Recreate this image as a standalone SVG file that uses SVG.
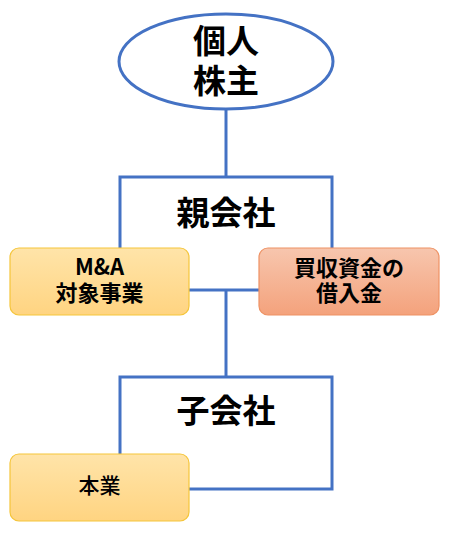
<svg xmlns="http://www.w3.org/2000/svg" width="458" height="544" viewBox="0 0 458 544">
<defs>
<linearGradient id="gy" x1="0" y1="0" x2="0" y2="1"><stop offset="0" stop-color="#FFE4A9"/><stop offset="1" stop-color="#FFD481"/></linearGradient>
<linearGradient id="gs" x1="0" y1="0" x2="0" y2="1"><stop offset="0" stop-color="#F7C6AE"/><stop offset="1" stop-color="#F4A27C"/></linearGradient>
</defs>
<style>
.ln{fill:none;stroke:#4472C4;stroke-width:3}
.big{font-family:"Noto Sans CJK JP","Noto Sans CJK SC",sans-serif;font-weight:bold;font-size:33px;fill:#000;text-anchor:middle}
.mid{font-family:"Noto Sans CJK JP","Noto Sans CJK SC",sans-serif;font-weight:bold;font-size:22px;fill:#000;text-anchor:middle}
.sm{font-family:"Noto Sans CJK JP","Noto Sans CJK SC",sans-serif;font-weight:500;font-size:21px;fill:#000;text-anchor:middle}
.yb{fill:url(#gy);stroke:#F5C53A;stroke-width:1.2}
.sb{fill:url(#gs);stroke:#EE9264;stroke-width:1.2}
</style>
<g id="connectors">
<line class="ln" x1="226" y1="109" x2="226" y2="177"/>
<line class="ln" x1="226" y1="290" x2="226" y2="377"/>
</g>
<g id="shareholder">
<ellipse class="ln" cx="226" cy="61.5" rx="107" ry="47.5" fill="#fff"/>
<text class="big"><tspan x="226" y="52.5">個人</tspan><tspan x="226" y="92.5">株主</tspan></text>
</g>
<g id="parent">
<rect class="ln" x="120" y="177" width="212" height="113" fill="#fff"/>
<text class="big" x="226" y="225">親会社</text>
</g>
<g id="ma">
<rect class="yb" x="10" y="248" width="179" height="67" rx="9"/>
<text class="mid"><tspan x="99.5" y="274.5">M&amp;A</tspan><tspan x="99.5" y="301">対象事業</tspan></text>
</g>
<g id="loan">
<rect class="sb" x="259" y="248" width="180" height="67" rx="9"/>
<text class="mid"><tspan x="349" y="276">買収資金の</tspan><tspan x="349" y="301">借入金</tspan></text>
</g>
<g id="child">
<rect class="ln" x="120" y="377" width="212" height="112" fill="#fff"/>
<text class="big" x="226" y="422.5">子会社</text>
</g>
<g id="core">
<rect class="yb" x="10" y="454" width="179" height="67" rx="9"/>
<text class="sm" x="99.5" y="493">本業</text>
</g>
</svg>
